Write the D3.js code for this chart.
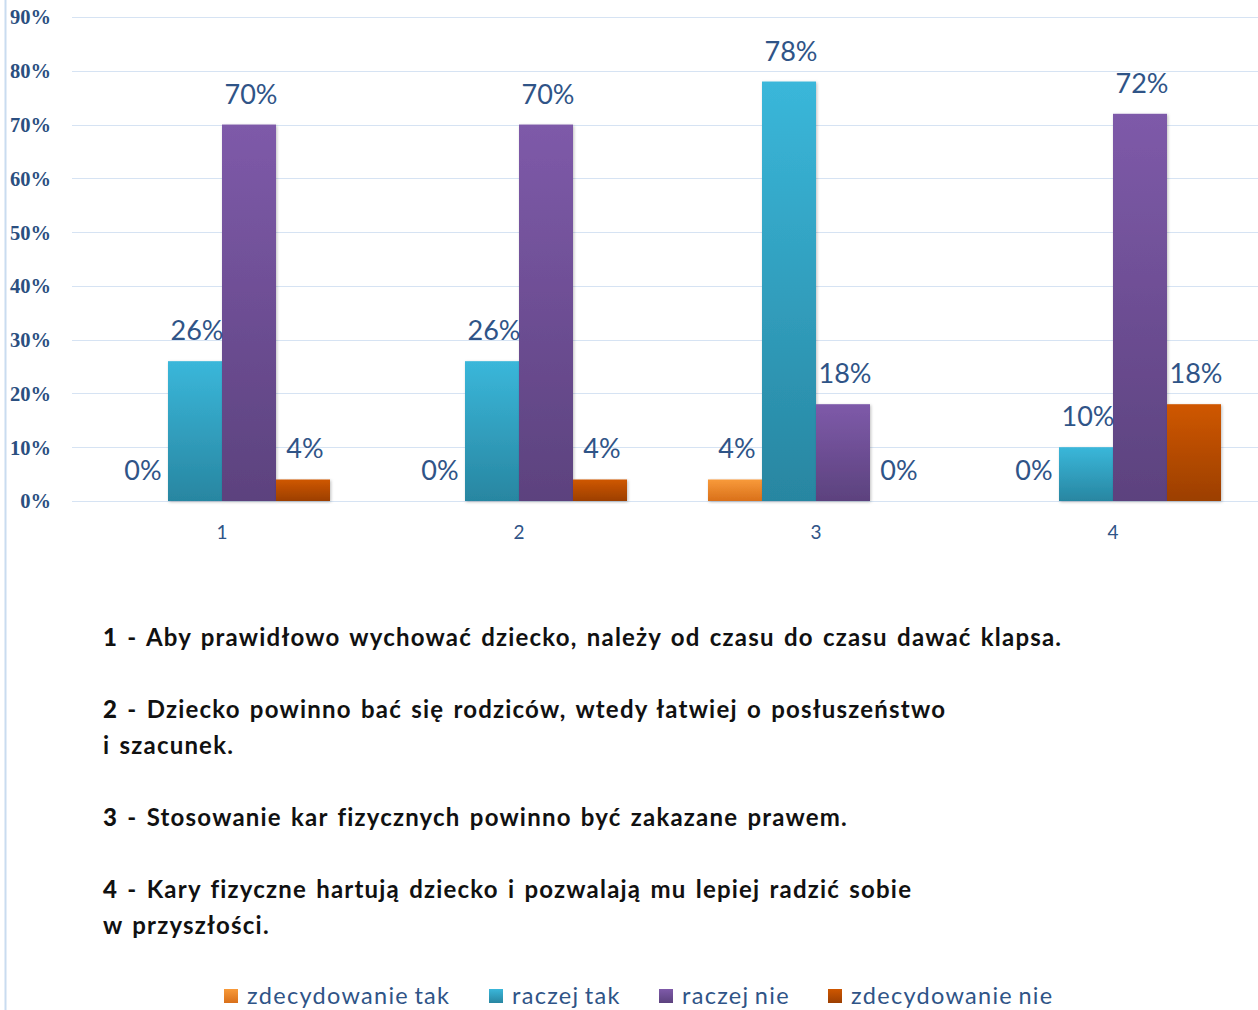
<!DOCTYPE html>
<html>
<head>
<meta charset="utf-8">
<script src="https://cdn.jsdelivr.net/npm/d3@7"></script>
<style>
  html, body { margin: 0; padding: 0; background: #fff; }
  svg { display: block; }
</style>
</head>
<body>
<svg id="chart" width="1258" height="1010"></svg>
<script>
const categories = ["1", "2", "3", "4"];
const seriesNames = ["zdecydowanie tak", "raczej tak", "raczej nie", "zdecydowanie nie"];
const zdecydowanieTak = [0, 0, 4, 0];
const raczejTak = [26, 26, 78, 10];
const raczejNie = [70, 70, 18, 72];
const zdecydowanieNie = [4, 4, 0, 18];
const yTicks = [0, 10, 20, 30, 40, 50, 60, 70, 80, 90];
const descriptions = [
  ["1 - Aby prawidłowo wychować dziecko, należy od czasu do czasu dawać klapsa."],
  ["2 - Dziecko powinno bać się rodziców, wtedy łatwiej o posłuszeństwo", "i szacunek."],
  ["3 - Stosowanie kar fizycznych powinno być zakazane prawem."],
  ["4 - Kary fizyczne hartują dziecko i pozwalają mu lepiej radzić sobie", "w przyszłości."]
];

const seriesValues = [zdecydowanieTak, raczejTak, raczejNie, zdecydowanieNie];
const colorTop = ["#f89a3a", "#3ab7da", "#7e5aa9", "#cf5700"];
const colorBot = ["#d9701a", "#2886a1", "#5c427e", "#9c3f02"];
const textBlue = "#2f5487";

const svg = d3.select("#chart");
const defs = svg.append("defs");
colorTop.forEach((c, i) => {
  const g = defs.append("linearGradient").attr("id", "grad" + i)
    .attr("x1", 0).attr("y1", 0).attr("x2", 0).attr("y2", 1);
  g.append("stop").attr("offset", "0%").attr("stop-color", c);
  g.append("stop").attr("offset", "100%").attr("stop-color", colorBot[i]);
});
const f = defs.append("filter").attr("id", "shadow").attr("x", "-20%").attr("y", "-5%").attr("width", "140%").attr("height", "115%");
f.append("feDropShadow").attr("dx", 1).attr("dy", 1).attr("stdDeviation", 1.5).attr("flood-color", "#000").attr("flood-opacity", 0.25);

// left border line
svg.append("line").attr("x1", 5.5).attr("x2", 5.5).attr("y1", 0).attr("y2", 1010)
  .attr("stroke", "#c9dcf0").attr("stroke-width", 2);

const y = d3.scaleLinear().domain([0, 90]).range([501, 17]);
const x0 = d3.scaleBand().domain(categories).range([73.5, 1261.5])
  .paddingInner(81 / 297).paddingOuter(81 / 297 / 2);
const x1 = d3.scaleBand().domain(d3.range(seriesNames.length)).range([0, x0.bandwidth()]);

// gridlines
svg.append("g").selectAll("line").data(yTicks).join("line")
  .attr("x1", 72).attr("x2", 1258)
  .attr("y1", d => Math.round(y(d)) + 0.5).attr("y2", d => Math.round(y(d)) + 0.5)
  .attr("stroke", "#d6e3f3").attr("stroke-width", 1.2);

// y axis labels
const yAxis = d3.axisLeft(y).tickValues(yTicks).tickFormat(d => d + "%").tickSize(0).tickPadding(0);
const yg = svg.append("g").attr("transform", "translate(51,0)").call(yAxis);
yg.select(".domain").remove();
yg.selectAll("text").attr("font-family", "'Liberation Serif', serif").attr("font-weight", "bold")
  .attr("font-size", 20.5).attr("fill", "#2b4f80")
  .attr("dy", "0.34em");

// x axis labels
const xAxis = d3.axisBottom(x0).tickSize(0).tickPadding(0);
const xg = svg.append("g").attr("transform", "translate(0,532)").call(xAxis);
xg.select(".domain").remove();
xg.selectAll("text").attr("font-family", "Lato, sans-serif")
  .attr("font-size", 19).attr("fill", textBlue).attr("dy", "0.36em");

// bars
const groups = svg.append("g").selectAll("g").data(categories).join("g")
  .attr("transform", d => `translate(${x0(d)},0)`);
groups.selectAll("rect")
  .data((d, ci) => seriesValues.map((vals, si) => ({ si, v: vals[ci] })))
  .join("rect")
  .attr("x", d => x1(d.si))
  .attr("width", x1.bandwidth())
  .attr("y", d => y(d.v))
  .attr("height", d => y(0) - y(d.v))
  .attr("fill", d => `url(#grad${d.si})`)
  .attr("filter", d => d.v > 0 ? "url(#shadow)" : null);

// value labels
groups.selectAll("text.val")
  .data((d, ci) => seriesValues.map((vals, si) => ({ si, v: vals[ci] })))
  .join("text").attr("class", "val")
  .attr("x", d => x1(d.si) + x1.bandwidth() / 2 + 2)
  .attr("y", d => y(d.v) - 21)
  .attr("text-anchor", "middle")
  .attr("font-family", "Lato, 'Open Sans', sans-serif")
  .attr("font-size", 27)
  .attr("fill", textBlue)
  .text(d => d.v + "%");

// descriptions
const descTop = [638, 710, 818, 890];
const dg = svg.append("g").attr("font-family", "Lato, sans-serif")
  .attr("font-weight", "bold").attr("font-size", 24).attr("fill", "#111")
  .attr("letter-spacing", 1.2).attr("word-spacing", 2.2);
descriptions.forEach((lines, i) => {
  lines.forEach((line, j) => {
    const t = dg.append("text").attr("x", 103).attr("y", descTop[i] + j * 36).attr("dy", "0.35em");
    const m = line.match(/^(\d)( - .*)$/);
    if (m) {
      t.append("tspan").attr("font-weight", 900).text(m[1]);
      t.append("tspan").text(m[2]);
    } else {
      t.text(line);
    }
  });
});

// legend
const legendX = [224, 489, 659, 828];
const lgG = svg.append("g").selectAll("g").data(seriesNames).join("g")
  .attr("transform", (d, i) => `translate(${legendX[i]},989)`);
lgG.append("rect").attr("width", 14).attr("height", 14).attr("fill", (d, i) => `url(#grad${i})`);
lgG.append("text").attr("x", 23).attr("y", 7).attr("dy", "0.35em")
  .attr("font-family", "Lato, sans-serif").attr("font-size", 23.5)
  .attr("letter-spacing", 1.3).attr("word-spacing", -2)
  .attr("fill", textBlue).text(d => d);
</script>
</body>
</html>
